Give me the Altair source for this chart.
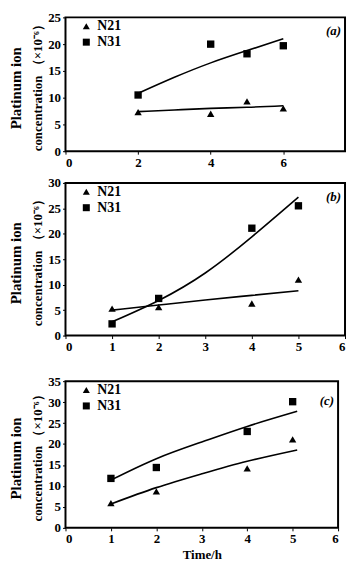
import altair as alt
import pandas as pd

# ---- panel (a) ----
time_a = [2, 4, 5, 6]
n21_a = [7.3, 7.0, 9.3, 8.0]
n31_a = [10.5, 20.0, 18.2, 19.7]
fit_x_a = [2, 3, 4, 5, 6]
fit_n21_a = [7.4, 7.7, 8.0, 8.2, 8.5]
fit_n31_a = [10.8, 13.8, 16.5, 18.8, 21.0]

# ---- panel (b) ----
time_b = [1, 2, 4, 5]
n21_b = [5.3, 5.6, 6.3, 11.0]
n31_b = [2.3, 7.3, 21.1, 25.5]
fit_x_b = [1, 2, 3, 4, 5]
fit_n21_b = [5.0, 6.0, 7.0, 7.9, 8.8]
fit_n31_b = [2.7, 6.9, 12.3, 19.4, 27.2]

# ---- panel (c) ----
time_c = [1, 2, 4, 5]
n21_c = [5.9, 8.7, 14.2, 21.1]
n31_c = [11.8, 14.4, 23.0, 30.1]
fit_x_c = [1, 2, 3, 4, 5.1]
fit_n21_c = [5.7, 9.6, 12.9, 15.9, 18.6]
fit_n31_c = [11.4, 16.5, 20.5, 24.2, 27.8]

series = ["N21", "N31"]
y_title_top = "Platinum ion"
y_title_bottom = "concentration （×10⁻⁶）"
FONT = "Liberation Serif"


def pts_df(t, a, b):
    return pd.DataFrame({"t": t + t, "v": a + b, "s": [series[0]] * len(t) + [series[1]] * len(t)})


def panel(t, a, b, fx, fa, fb, xdom, xticks, ydom, yticks, w, h, label, label_y, xtitle=""):
    pts = pts_df(t, a, b)
    fit = pts_df(fx, fa, fb)
    x = alt.X("t:Q", scale=alt.Scale(domain=xdom, nice=False, zero=False),
              axis=alt.Axis(values=xticks, format="d", title=xtitle))
    y = alt.Y("v:Q", scale=alt.Scale(domain=ydom, nice=False),
              axis=alt.Axis(values=yticks, title=y_title_bottom))
    lines = alt.Chart(fit).mark_line(color="black", strokeWidth=1.6, interpolate="natural").encode(
        x=x, y=y, detail="s:N")
    points = alt.Chart(pts).mark_point(filled=True, color="black", opacity=1, size=55).encode(
        x=x, y=y,
        shape=alt.Shape("s:N", scale=alt.Scale(domain=series, range=["triangle-up", "square"]),
                        legend=alt.Legend(title="", orient="none", legendX=14, legendY=2)))
    lab = alt.Chart(pd.DataFrame({"l": [label]})).mark_text(
        font=FONT, fontSize=13, fontStyle="italic", fontWeight="bold", align="right").encode(
        x=alt.value(w - 4), y=alt.value(label_y), text="l:N")
    top_title = alt.Chart(pd.DataFrame({"l": [y_title_top]})).mark_text(
        font=FONT, fontSize=15, fontWeight="bold", angle=270, baseline="middle").encode(
        x=alt.value(-50), y=alt.value(h / 2 + 4), text="l:N")
    return alt.layer(lines, points, lab, top_title).properties(width=w, height=h).resolve_scale(
        shape="independent")


pa = panel(time_a, n21_a, n31_a, fit_x_a, fit_n21_a, fit_n31_a,
           [0, 7.7], [0, 2, 4, 6], [0, 25], [0, 5, 10, 15, 20, 25], 282, 135, "(a)", 14)
pb = panel(time_b, n21_b, n31_b, fit_x_b, fit_n21_b, fit_n31_b,
           [0, 6], [0, 1, 2, 3, 4, 5, 6], [0, 30], [0, 5, 10, 15, 20, 25, 30], 282, 154, "(b)", 14)
pc = panel(time_c, n21_c, n31_c, fit_x_c, fit_n21_c, fit_n31_c,
           [0, 6], [0, 1, 2, 3, 4, 5, 6], [0, 35], [0, 5, 10, 15, 20, 25, 30, 35], 275, 148, "(c)", 20,
           xtitle="Time/h")

chart = alt.vconcat(pa, alt.vconcat(pb, pc, spacing=20), spacing=6).resolve_scale(
    shape="independent", x="independent", y="independent").resolve_legend(shape="independent").configure_view(
    stroke="black", strokeWidth=2).configure_axis(
    labelFont=FONT, labelFontWeight="bold", labelFontSize=13, labelColor="black",
    titleFont=FONT, titleFontWeight="bold", titleFontSize=13, titleColor="black",
    domain=False, grid=False, tickColor="black", tickSize=3, labelPadding=2, titlePadding=3).configure_legend(
    labelFont=FONT, labelFontWeight="bold", labelFontSize=14, labelColor="black",
    symbolFillColor="black", symbolStrokeColor="black", symbolSize=50, rowPadding=2, padding=0).properties(
    padding={"left": 0, "top": 0, "right": 0, "bottom": 0})

chart.save("out.html", embed_options={"renderer": "svg", "actions": False})
